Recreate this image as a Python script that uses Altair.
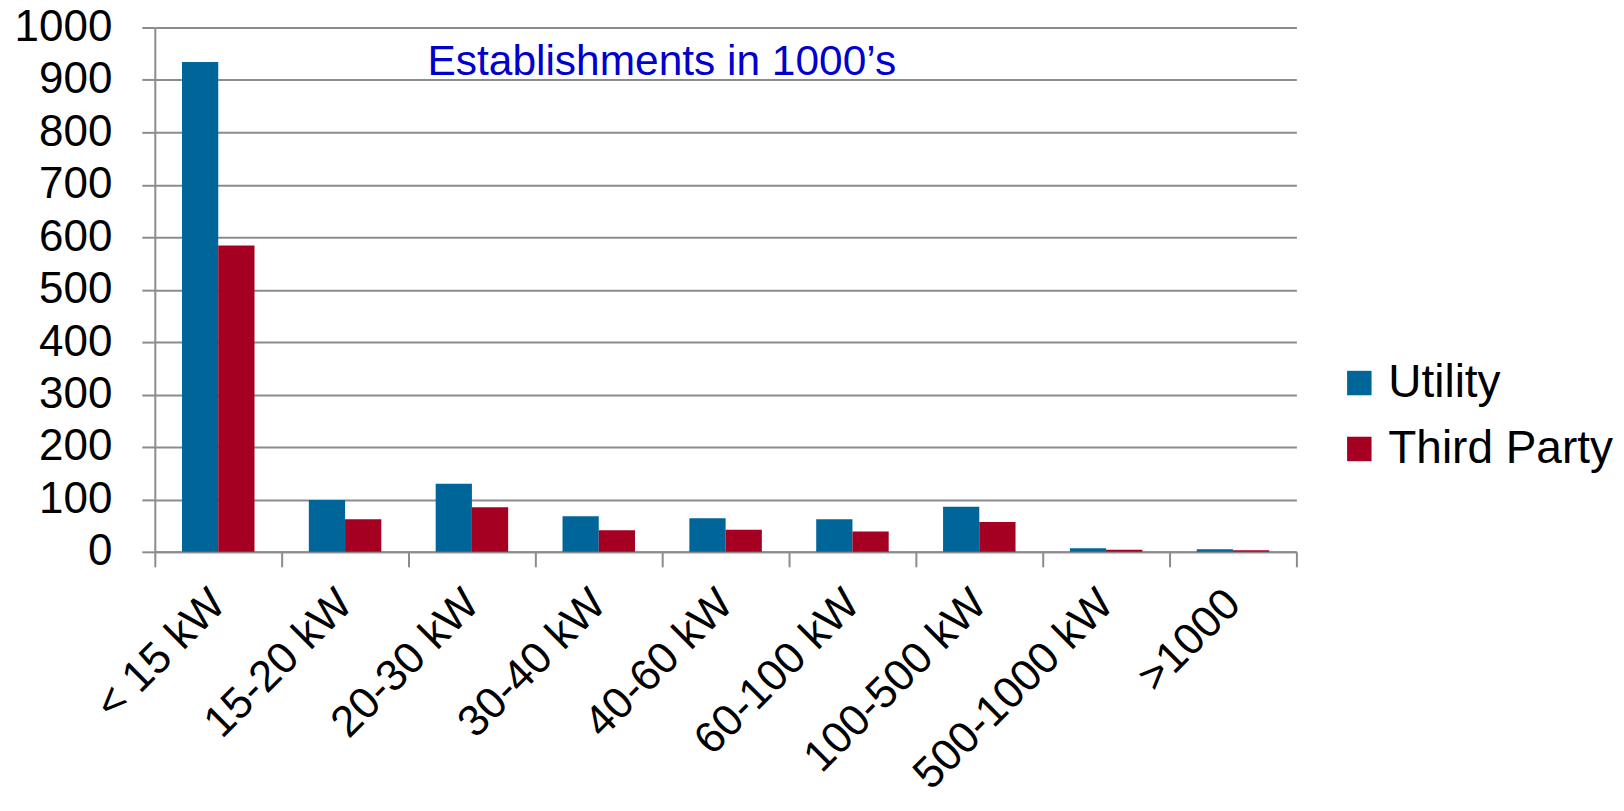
import altair as alt
import pandas as pd

categories = ["< 15 kW", "15-20 kW", "20-30 kW", "30-40 kW", "40-60 kW",
              "60-100 kW", "100-500 kW", "500-1000 kW", ">1000"]
utility = [934, 99, 130, 68, 64, 62, 86, 7, 5]
third_party = [584, 62, 85, 41, 42, 39, 57, 4, 3]
series = ["Utility", "Third Party"]
colors = ["#00669A", "#A50021"]
y_ticks = [0, 100, 200, 300, 400, 500, 600, 700, 800, 900, 1000]
title_text = ["Establishments in 1000\u2019s"]

rows = []
for c, u, t in zip(categories, utility, third_party):
    rows.append({"cat": c, "series": series[0], "value": u})
    rows.append({"cat": c, "series": series[1], "value": t})
df = pd.DataFrame(rows)

FONT = "Liberation Sans"
GRID = "#8C8C8C"

bars = alt.Chart(df).mark_bar().encode(
    x=alt.X("cat:N", sort=categories, title=None,
            scale=alt.Scale(paddingInner=0, paddingOuter=0),
            axis=alt.Axis(labelAngle=-45, labelAlign="right", labelBaseline="middle",
                          labelFontSize=44, labelFont=FONT, labelColor="#000000",
                          labelPadding=30, labelOffset=0,
                          tickBand="extent", ticks=True, tickSize=15, tickColor=GRID,
                          tickWidth=2, domainColor=GRID, domainWidth=2,
                          labelOverlap=False, labelLimit=0)),
    xOffset=alt.XOffset("series:N", sort=series,
                        scale=alt.Scale(paddingInner=0, paddingOuter=0.75)),
    y=alt.Y("value:Q", title=None,
            scale=alt.Scale(domain=[0, 1000], nice=False),
            axis=alt.Axis(values=y_ticks, format="d", labelFontSize=44, labelFont=FONT,
                          labelColor="#000000", labelPadding=30, tickSize=13,
                          tickColor=GRID, tickWidth=2, domainColor=GRID,
                          domainWidth=2, gridColor=GRID, gridWidth=2, grid=True)),
    color=alt.Color("series:N", sort=series,
                    scale=alt.Scale(domain=series, range=colors),
                    legend=alt.Legend(title=None, orient="none", legendX=1183,
                                      legendY=333, symbolType="square",
                                      symbolSize=600, symbolStrokeWidth=0,
                                      labelFontSize=46, labelFont=FONT,
                                      labelColor="#000000", labelOffset=6,
                                      labelLimit=0, rowPadding=20, padding=0)),
)

title = alt.Chart(pd.DataFrame({"t": title_text})).mark_text(
    align="left", baseline="alphabetic", font=FONT, fontSize=42.5, color="#0000CC"
).encode(x=alt.value(273), y=alt.value(48), text="t:N")

chart = alt.layer(bars, title).properties(
    width=1143, height=525,
    autosize=alt.AutoSizeParams(type="none"),
    padding={"left": 147, "top": 19, "right": 320, "bottom": 270},
).configure_view(stroke=None).configure_axis(grid=False).configure_axisY(grid=True)

chart.save("out.html", embed_options={"renderer": "svg", "actions": False})
